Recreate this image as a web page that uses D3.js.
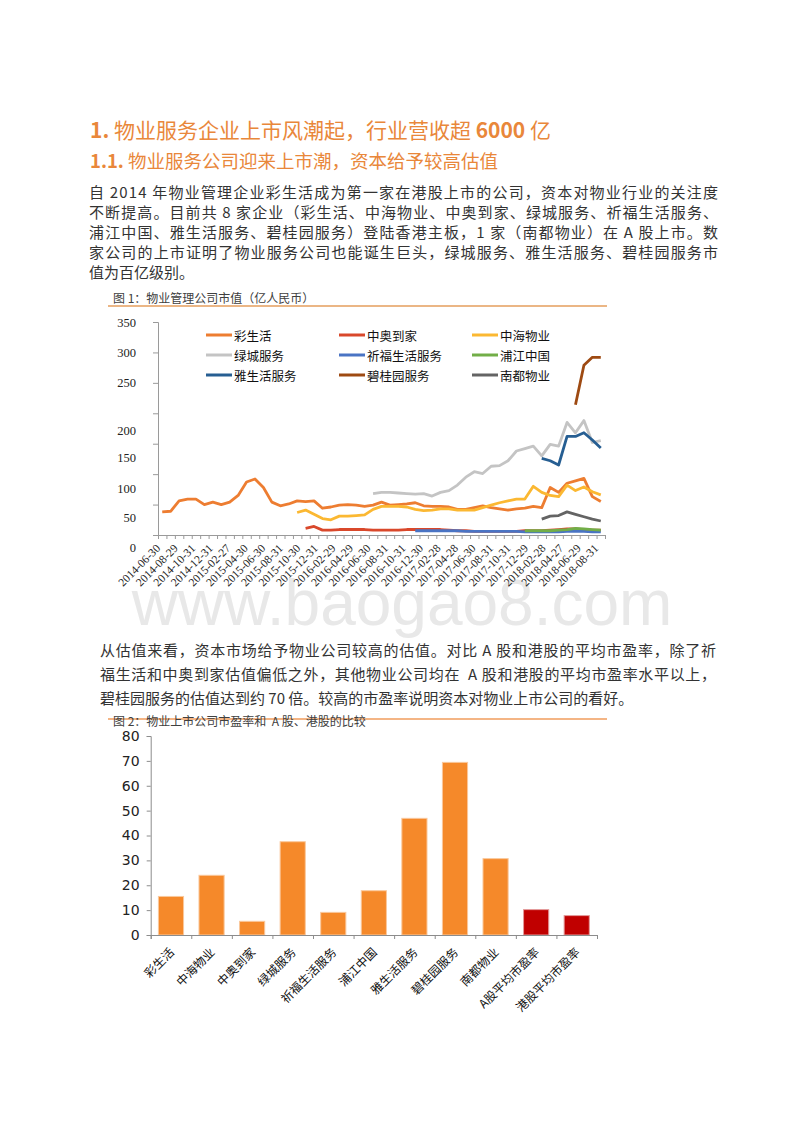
<!DOCTYPE html>
<html><head><meta charset="utf-8">
<script src="https://cdn.jsdelivr.net/npm/d3@7"></script>
<style>body{margin:0;background:#fff}</style>
</head><body><svg id="page" width="800" height="1130"></svg>
<script>
// ---------------- DATA ----------------
const heading1 = ["1.", " 物业服务企业上市风潮起，行业营收超 ", "6000", " 亿"];
const heading2 = ["1.1.", " 物业服务公司迎来上市潮，资本给予较高估值"];
const para1 = [
  "自 2014 年物业管理企业彩生活成为第一家在港股上市的公司，资本对物业行业的关注度",
  "不断提高。目前共 8 家企业（彩生活、中海物业、中奥到家、绿城服务、祈福生活服务、",
  "浦江中国、雅生活服务、碧桂园服务）登陆香港主板，1 家（南都物业）在 A 股上市。数",
  "家公司的上市证明了物业服务公司也能诞生巨头，绿城服务、雅生活服务、碧桂园服务市",
  "值为百亿级别。"
];
const para2 = [
  "从估值来看，资本市场给予物业公司较高的估值。对比 A 股和港股的平均市盈率，除了祈",
  "福生活和中奥到家估值偏低之外，其他物业公司均在  A 股和港股的平均市盈率水平以上，",
  "碧桂园服务的估值达到约 70 倍。较高的市盈率说明资本对物业上市公司的看好。"
];
const fig1Title = "图 1：物业管理公司市值（亿人民币）";
const fig2Title = "图 2：物业上市公司市盈率和  A 股、港股的比较";
const watermark = "www.baogao8.com";

// Figure 1: monthly categories
const dates = [
 "2014-06-30","2014-07-31","2014-08-29","2014-09-30","2014-10-31","2014-11-28","2014-12-31","2015-01-30",
 "2015-02-27","2015-03-31","2015-04-30","2015-05-29","2015-06-30","2015-07-31","2015-08-31","2015-09-30",
 "2015-10-30","2015-11-30","2015-12-31","2016-01-29","2016-02-29","2016-03-31","2016-04-29","2016-05-31",
 "2016-06-30","2016-07-29","2016-08-31","2016-09-30","2016-10-31","2016-11-30","2016-12-30","2017-01-26",
 "2017-02-28","2017-03-31","2017-04-28","2017-05-31","2017-06-30","2017-07-31","2017-08-31","2017-09-29",
 "2017-10-31","2017-11-30","2017-12-29","2018-01-31","2018-02-28","2018-03-29","2018-04-27","2018-05-31",
 "2018-06-29","2018-07-31","2018-08-31","2018-09-28","2018-10-31"
];
const xTickLabels = ["2014-06-30","2014-08-29","2014-10-31","2014-12-31","2015-02-27","2015-04-30","2015-06-30",
 "2015-08-31","2015-10-30","2015-12-31","2016-02-29","2016-04-29","2016-06-30","2016-08-31","2016-10-31",
 "2016-12-30","2017-02-28","2017-04-28","2017-06-30","2017-08-31","2017-10-31","2017-12-29","2018-02-28",
 "2018-04-27","2018-06-29","2018-08-31"];
const yTicks1 = [0,50,100,150,200,250,300,350];

const seriesNames = ["彩生活","中奥到家","中海物业","绿城服务","祈福生活服务","浦江中国","雅生活服务","碧桂园服务","南都物业"];
const seriesColors = ["#ED7D31","#D9482B","#FBB832","#C4C4C4","#4A74C4","#72AE48","#265E92","#9E4A12","#646464"];
// values per series (null = not yet listed)
const caishenghuo = [38,39,56,59,59,50,54,50,54,65,87,92,78,54,48,51,56,55,56,44,46,49,50,49,47,49,54,49,50,51,53,48,47,47,46,42,42,45,48,45,43,41,43,44,47,45,78,70,85,89,93,63,55];
const zhongao = [null,null,null,null,null,null,null,null,null,null,null,null,null,null,null,null,null,
  11,14,8,8,9,9,9,9,8,8,8,8,9,9,9,9,9,8,7,7,6,6,6,6,6,6,7,7,7,8,9,10,10,9,8,8];
const zhonghai = [null,null,null,null,null,null,null,null,null,null,null,null,null,null,null,null,
  37,41,34,27,25,31,31,32,33,42,47,47,47,46,42,40,41,43,43,41,41,41,45,49,53,56,59,59,80,70,65,63,82,73,79,71,66];
const lvcheng = [null,null,null,null,null,null,null,null,null,null,null,null,null,null,null,null,null,null,null,null,null,null,null,null,null,
  68,70,70,69,68,67,68,64,70,73,82,95,104,101,113,114,122,138,142,146,130,149,146,185,168,188,152,155];
const qifu = [null,null,null,null,null,null,null,null,null,null,null,null,null,null,null,null,null,null,null,null,null,null,null,null,null,null,null,null,null,null,
  7,7,7,7,7,7,6,6,6,6,6,6,6,5,5,5,5,5,6,6,6,5,5];
const pujiang = [null,null,null,null,null,null,null,null,null,null,null,null,null,null,null,null,null,null,null,null,null,null,null,null,null,null,null,null,null,null,null,null,null,null,null,null,null,null,null,null,null,null,null,
  7,7,7,7,8,9,11,10,9,8];
const yashenghuo = [null,null,null,null,null,null,null,null,null,null,null,null,null,null,null,null,null,null,null,null,null,null,null,null,null,null,null,null,null,null,null,null,null,null,null,null,null,null,null,null,null,null,null,null,null,
  126,122,115,162,162,168,156,143];
const biguiyuan = [null,null,null,null,null,null,null,null,null,null,null,null,null,null,null,null,null,null,null,null,null,null,null,null,null,null,null,null,null,null,null,null,null,null,null,null,null,null,null,null,null,null,null,null,null,null,null,null,null,
  214,279,292,292];
const nandu = [null,null,null,null,null,null,null,null,null,null,null,null,null,null,null,null,null,null,null,null,null,null,null,null,null,null,null,null,null,null,null,null,null,null,null,null,null,null,null,null,null,null,null,null,null,
  26,31,32,38,34,30,26,23];
const seriesValues = [caishenghuo, zhongao, zhonghai, lvcheng, qifu, pujiang, yashenghuo, biguiyuan, nandu];

// Figure 2
const peCategories = ["彩生活","中海物业","中奥到家","绿城服务","祈福生活服务","浦江中国","雅生活服务","碧桂园服务","南都物业","A股平均市盈率","港股平均市盈率"];
const peValues = [15.5,24,5.5,37.5,9.1,17.8,46.9,69.4,30.7,10.2,7.8];
const peColors = ["#F5892A","#F5892A","#F5892A","#F5892A","#F5892A","#F5892A","#F5892A","#F5892A","#F5892A","#C00000","#C00000"];
const yTicks2 = [0,10,20,30,40,50,60,70,80];

// ---------------- DRAW ----------------
const svg = d3.select("#page");
svg.append("rect").attr("width",800).attr("height",1130).attr("fill","#fff");
const CJK = "'Noto Sans CJK SC','Noto Sans',sans-serif";
const ORANGE = "#E9873A";

// Headings
const h1 = svg.append("text").attr("x",90).attr("y",138).attr("font-family",CJK).attr("font-size",21).attr("fill",ORANGE);
heading1.forEach((t,i)=> h1.append("tspan").text(t).attr("font-weight", (i===0||i===2)?"bold":"normal").style("white-space","pre"));
const h2 = svg.append("text").attr("x",90).attr("y",168).attr("font-family",CJK).attr("font-size",18.5).attr("fill",ORANGE);
heading2.forEach((t,i)=> h2.append("tspan").text(t).attr("font-weight", i===0?"bold":"normal"));

function paragraph(lines, x, y0, lh, width){
  lines.forEach((t,i)=>{
    const el = svg.append("text").attr("x",x).attr("y",y0+i*lh)
      .attr("font-family",CJK).attr("font-size",15).attr("fill","#333")
      .attr("dominant-baseline","central").style("white-space","pre").text(t);
    if(i<lines.length-1) el.attr("textLength",width).attr("lengthAdjust","spacing");
  });
}
paragraph(para1, 89, 191, 20.2, 629);

// ---- Figure 1 ----
svg.append("text").attr("x",113).attr("y",297).attr("dominant-baseline","central")
  .attr("font-family",CJK).attr("font-size",12).attr("fill","#404040").style("white-space","pre").text(fig1Title);
svg.append("line").attr("x1",108).attr("x2",607).attr("y1",306).attr("y2",306).attr("stroke","#E59E5C").attr("stroke-width",1.5);

// watermark (behind axis labels)
svg.append("text").attr("x",402).attr("y",625).attr("text-anchor","middle")
  .attr("font-family","'Liberation Sans',Arial,sans-serif").attr("font-size",64).attr("fill","#E8E8E8").text(watermark);

const x0 = 158, x1 = 605, yTop = 322, yBot = 535;
const xBand = d3.scaleBand().domain(dates).range([x0,x1]);
const xEdge = d3.scaleLinear().domain([0,dates.length]).range([x0,x1]);
const y1 = d3.scaleLinear().domain([0,350]).range([yBot,yTop]);
const xLab = d3.scalePoint().domain(xTickLabels).range([161,599]);

// y axis
const gy1 = svg.append("g").attr("transform",`translate(${x0},0)`)
  .call(d3.axisLeft(y1).tickValues(yTicks1).tickSize(5).tickPadding(17));
gy1.select(".domain").attr("stroke","#9a9a9a");
gy1.selectAll(".tick line").attr("stroke","#9a9a9a");
const yLabelShift = {0:12,50:13,100:14,150:14,200:17,250:0,300:0,350:0};
gy1.selectAll(".tick text").attr("font-family","'Liberation Serif','Times New Roman',serif")
  .attr("font-size",12.5).attr("fill","#222").attr("dy", d => (0.32 + yLabelShift[d]/12.5) + "em");

// x axis ticks at category boundaries
const gx1 = svg.append("g").attr("transform",`translate(0,${yBot})`)
  .call(d3.axisBottom(xEdge).tickValues(d3.range(dates.length+1)).tickSize(4).tickFormat(""));
gx1.select(".domain").attr("stroke","#9a9a9a");
gx1.selectAll(".tick line").attr("stroke","#9a9a9a");
svg.append("g").selectAll("text").data(xTickLabels).join("text")
  .attr("transform", d => `translate(${xLab(d)},549) rotate(-45)`)
  .attr("text-anchor","end").attr("font-family","'Liberation Serif','Times New Roman',serif")
  .attr("font-size",11.5).attr("fill","#222").text(d=>d);

// lines
const lineGen = d3.line()
  .defined(d => d.v !== null)
  .x(d => xBand(d.date) + xBand.bandwidth()/2)
  .y(d => y1(d.v));
seriesValues.forEach((vals,i)=>{
  const pts = dates.map((date,j)=>({date, v: vals[j]}));
  svg.append("path").datum(pts).attr("d",lineGen).attr("fill","none")
    .attr("stroke",seriesColors[i]).attr("stroke-width",2.8).attr("stroke-linejoin","round");
});

// legend 3x3
const legX = [206,339,472], legY = [335,355,375];
seriesNames.forEach((n,i)=>{
  const lx = legX[i%3], ly = legY[Math.floor(i/3)];
  svg.append("line").attr("x1",lx).attr("x2",lx+26).attr("y1",ly).attr("y2",ly)
    .attr("stroke",seriesColors[i]).attr("stroke-width",3);
  svg.append("text").attr("x",lx+28).attr("y",ly).attr("dominant-baseline","central")
    .attr("font-family",CJK).attr("font-size",12.5).attr("fill","#111").text(n);
});

// paragraph 2
paragraph(para2, 100, 649, 24, 616);

// ---- Figure 2 ----
svg.append("line").attr("x1",108).attr("x2",607).attr("y1",719).attr("y2",719).attr("stroke","#F4B585").attr("stroke-width",2);
svg.append("text").attr("x",113).attr("y",720).attr("dominant-baseline","central")
  .attr("font-family",CJK).attr("font-size",12).attr("fill","#404040").style("white-space","pre").text(fig2Title);

const bx0 = 150.7, bx1 = 597, by0 = 935, by1 = 736;
const xB = d3.scaleBand().domain(peCategories).range([bx0,bx1]).paddingInner(0.38).paddingOuter(0.19);
const xB2 = d3.scaleLinear().domain([0,peCategories.length]).range([bx0,bx1]);
const y2 = d3.scaleLinear().domain([0,80]).range([by0,by1]);

svg.append("g").selectAll("rect").data(peCategories).join("rect")
  .attr("x", d => xB(d)).attr("width", xB.bandwidth())
  .attr("y", (d,i) => y2(peValues[i])).attr("height", (d,i) => by0 - y2(peValues[i]))
  .attr("fill", (d,i) => peColors[i])
  .attr("stroke", (d,i) => i>=9 ? "#E39A9A" : "#FAC89C").attr("stroke-width",1);

const gy2 = svg.append("g").attr("transform",`translate(${bx0},0)`)
  .call(d3.axisLeft(y2).tickValues(yTicks2).tickSize(4).tickPadding(7));
gy2.select(".domain").attr("stroke","#8c8c8c");
gy2.selectAll(".tick line").attr("stroke","#8c8c8c");
gy2.selectAll(".tick text").attr("font-family","'DejaVu Sans',Verdana,sans-serif").attr("font-size",14).attr("fill","#222");

const gx2 = svg.append("g").attr("transform",`translate(0,${by0})`)
  .call(d3.axisBottom(xB2).tickValues(d3.range(peCategories.length+1)).tickSize(4).tickFormat(""));
gx2.select(".domain").attr("stroke","#8c8c8c");
gx2.selectAll(".tick line").attr("stroke","#8c8c8c");
svg.append("g").selectAll("text").data(peCategories).join("text")
  .attr("transform", d => `translate(${xB(d)+xB.bandwidth()/2+4},953) rotate(-45)`)
  .attr("text-anchor","end").attr("font-family",CJK).attr("font-size",12).attr("fill","#111").text(d=>d);
</script></body></html>
